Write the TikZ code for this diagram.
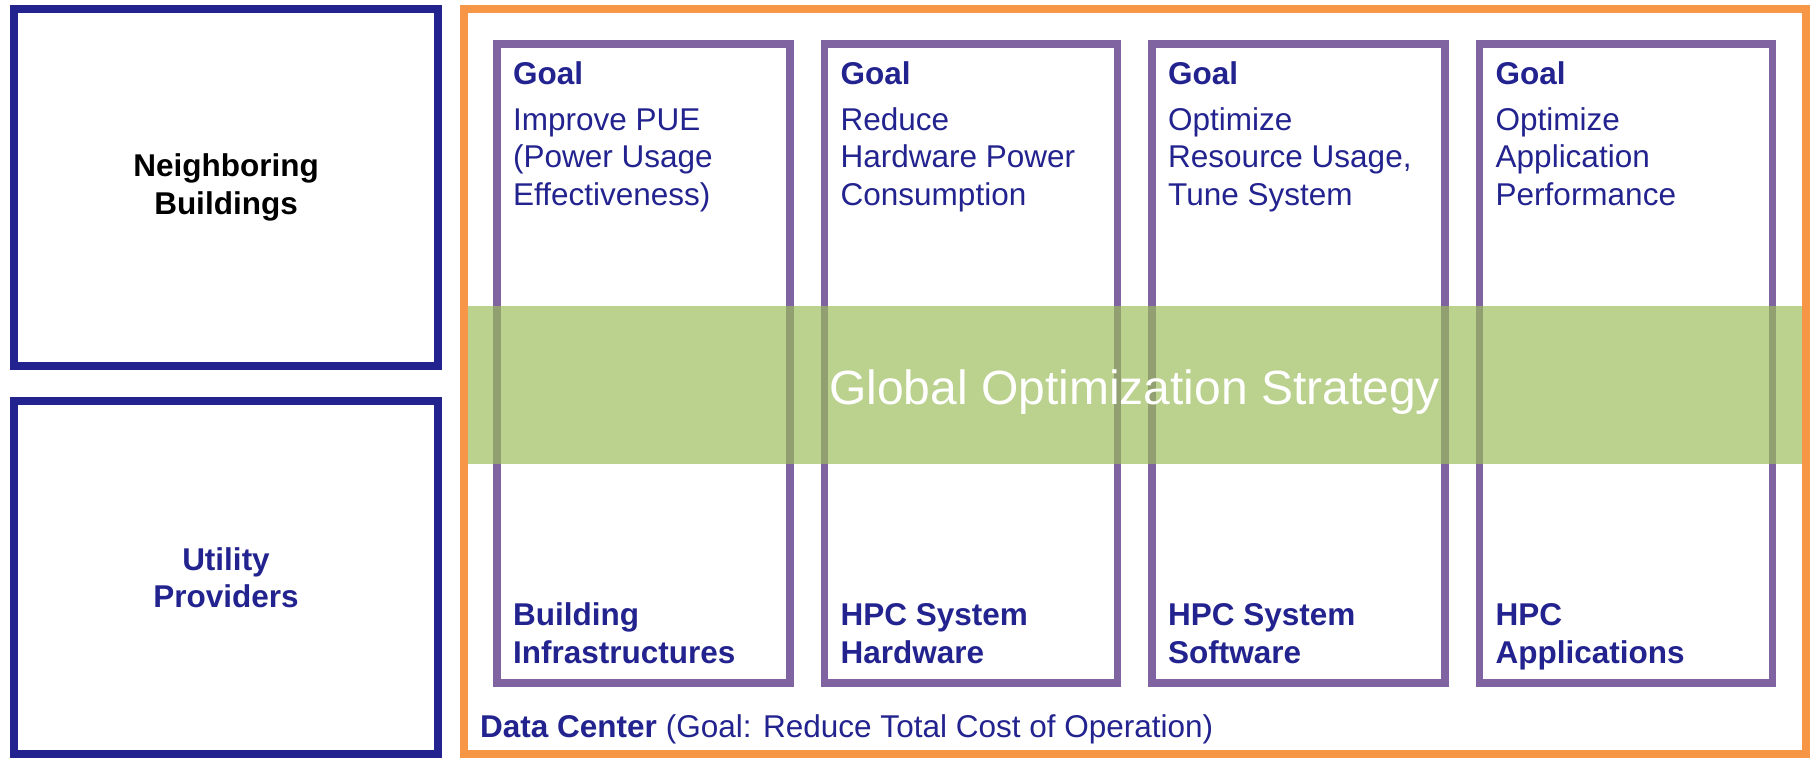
\documentclass[tikz,border=0pt]{standalone}
\usepackage{fontspec}
\setmainfont{Liberation Sans}
\definecolor{dcnavy}{RGB}{35,35,143}
\definecolor{dcpurple}{RGB}{128,100,162}
\definecolor{dcorange}{RGB}{247,150,70}
\definecolor{dcgreen}{RGB}{155,187,89}
\newcommand\txtsize{\fontsize{31.5}{37.5}\selectfont}

\begin{document}
\begin{tikzpicture}
  [x=1pt,y=-1pt,
   every node/.style={inner sep=0pt,font=\txtsize},
   sidebox/.style={draw=dcnavy,line width=8pt,minimum width=424pt,align=center,font=\bfseries\txtsize},
   colbox/.style={draw=dcpurple,line width=7.5pt,minimum width=293pt,minimum height=639pt},
   goaltxt/.style={anchor=base west,align=left,text=dcnavy},
   boldtxt/.style={goaltxt,font=\bfseries\txtsize}]
  \useasboundingbox (0,0) rectangle (1814,758);

  % Entorno: edificios vecinos y proveedores
  \node[sidebox,minimum height=357pt] (nb) at (226,187.5) {Neighboring\\Buildings};
  \node[sidebox,minimum height=353pt,text=dcnavy] (up) at (226,577.5) {Utility\\Providers};

  % Marco del centro de datos
  \node[draw=dcorange,line width=8pt,minimum width=1342pt,minimum height=745pt] (dc) at (1135,381.5) {};
  \node[anchor=base west,text=dcnavy] (dclabel) at (480,737)
    {\textbf{Data Center} (Goal: Reduce Total Cost of Operation)};

  % Columnas: objetivo arriba, nivel abajo (base = última línea)
  \foreach \i/\goal/\layer in {
      1/{Improve PUE\\(Power Usage\\Effectiveness)}/{Building\\Infrastructures},
      2/{Reduce\\Hardware Power\\Consumption}/{HPC System\\Hardware},
      3/{Optimize\\Resource Usage,\\Tune System}/{HPC System\\Software},
      4/{Optimize\\Application\\Performance}/{HPC\\Applications}}
  {
    \pgfmathsetmacro{\x}{497+(\i-1)*327.5}
    \node[colbox] (col\i) at (\x+146.5,363.5) {};
    \node[boldtxt] (head\i) at (\x+16,84) {Goal};
    \node[goaltxt] (goal\i) at (\x+16,205) {\goal};
    \node[boldtxt] (layer\i) at (\x+16,663) {\layer};
  }

  % Banda de la estrategia global
  \node[fill=dcgreen,fill opacity=0.68,minimum width=1334pt,minimum height=158pt] (band) at (1135,385) {};
  \node[anchor=base,text=white,font=\fontsize{48}{56}\selectfont] (strategy) at (1134.5,404)
    {Global Optimization Strategy};
\end{tikzpicture}
\end{document}
